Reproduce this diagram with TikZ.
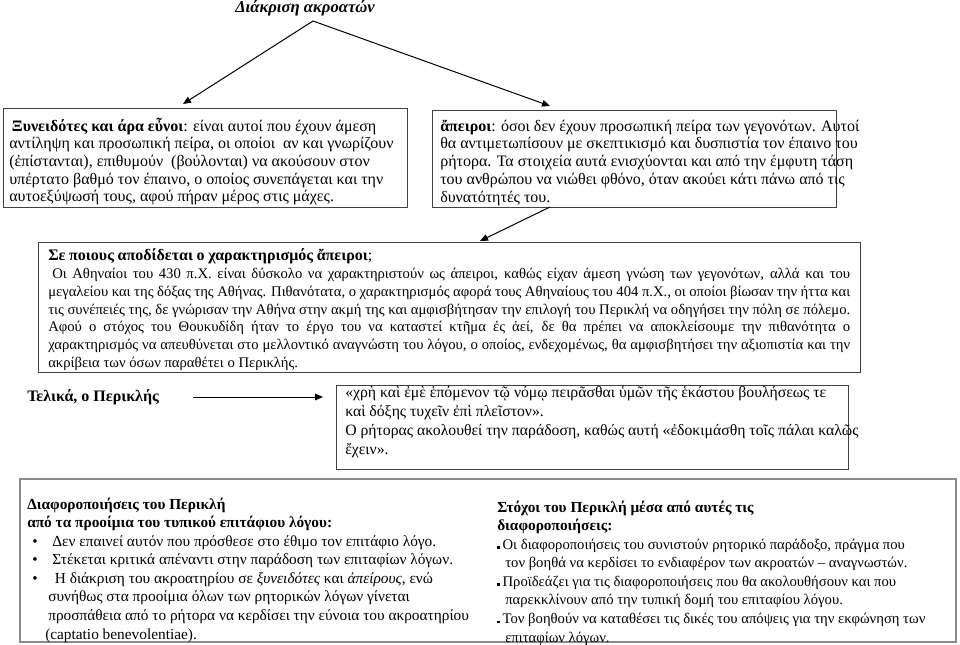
\documentclass[tikz,border=0pt]{standalone}
\usepackage{fontspec}
\setmainfont{Liberation Serif}
\usetikzlibrary{arrows.meta,calc}
\definecolor{boxgray}{HTML}{404040}
\definecolor{biggray}{HTML}{8C8C8C}
\newcommand{\tstr}{\rule{0pt}{11pt}}
\newcommand{\sqb}{\rule{2.2pt}{2.2pt}}
\newcommand{\tightspaces}{\spaceskip=0.25em plus 0.3em minus 0.1em\relax}
\begin{document}
\begin{tikzpicture}[x=0.75pt,y=-0.75pt,
  box/.style={draw=boxgray,line width=0.9pt,inner sep=0pt,anchor=north west},
  bigbox/.style={draw=biggray,line width=1.5pt,inner sep=0pt,anchor=north west},
  txt/.style={inner sep=0pt,anchor=north west,align=left},
  arr/.style={-{Triangle[length=6pt,width=5pt]},line width=0.75pt}]
\useasboundingbox (0,0) rectangle (960,645);
% title
\node[font=\bfseries\itshape\fontsize{12.5}{14}\selectfont,anchor=base,inner sep=0pt] (title) at (305,13) {Διάκριση ακροατών};
\coordinate (apex) at (313,21);
% boxes
\node[box,minimum width=303pt,minimum height=74.25pt] (lbox) at (3,108) {};
\node[box,minimum width=303pt,minimum height=72.75pt] (rbox) at (432,110) {};
\node[box,minimum width=616.5pt,minimum height=97.5pt] (mbox) at (38,242) {};
\node[box,minimum width=384pt,minimum height=63pt] (qbox) at (336,385) {};
\node[bigbox,minimum width=702pt,minimum height=122.25pt] (bbox) at (19,478) {};
% arrows
\coordinate (ltip) at (183,104);
\coordinate (rtip) at (550,106);
\coordinate (rstart) at (550,207);
\coordinate (mtip) at (480,241);
\draw[arr] (apex) -- (ltip);
\draw[arr] (apex) -- (rtip);
\draw[arr] (rstart) -- (mtip);
% left box text
\node[txt,font=\fontsize{12}{13.2}\selectfont] (ltxt) at (9,131-14.67) {\tstr\hspace*{2pt}\textbf{Ξυνειδότες και άρα εὖνοι}: είναι αυτοί που έχουν άμεση\\
αντίληψη και προσωπική πείρα, οι οποίοι \ αν και γνωρίζουν\\
(ἐπίστανται), επιθυμούν \ (βούλονται) να ακούσουν στον\\
υπέρτατο βαθμό τον έπαινο, ο οποίος συνεπάγεται και την\\
αυτοεξύψωσή τους, αφού πήραν μέρος στις μάχες.};
% right box text
\node[txt,font=\fontsize{12}{13.3}\selectfont] (rtxt) at (440,131-14.67) {\tstr\textbf{ἄπειροι}: όσοι δεν έχουν προσωπική πείρα των γεγονότων. Αυτοί\\
θα αντιμετωπίσουν με σκεπτικισμό και δυσπιστία τον έπαινο του\\
ρήτορα. Τα στοιχεία αυτά ενισχύονται και από την έμφυτη τάση\\
του ανθρώπου να νιώθει φθόνο, όταν ακούει κάτι πάνω από τις\\
δυνατότητές του.};
% middle box text
\node[txt,align=justify,text width=601.5pt,font=\fontsize{11}{13.45}\selectfont] (mtxt) at (48,260-14.67) {\tightspaces\tstr{\fontsize{12}{13.45}\selectfont\textbf{Σε ποιους αποδίδεται ο χαρακτηρισμός ἄπειροι};}\\
\hspace*{3pt}Οι Αθηναίοι του 430 π.Χ. είναι δύσκολο να χαρακτηριστούν ως άπειροι, καθώς είχαν άμεση γνώση των γεγονότων, αλλά και του\linebreak
μεγαλείου και της δόξας της Αθήνας. Πιθανότατα, ο χαρακτηρισμός αφορά τους Αθηναίους του 404 π.Χ., οι οποίοι βίωσαν την ήττα και\linebreak
τις συνέπειές της, δε γνώρισαν την Αθήνα στην ακμή της και αμφισβήτησαν την επιλογή του Περικλή να οδηγήσει την πόλη σε πόλεμο.\linebreak
Αφού ο στόχος του Θουκυδίδη ήταν το έργο του να καταστεί κτῆμα ἐς ἀεί, δε θα πρέπει να αποκλείσουμε την πιθανότητα ο\linebreak
χαρακτηρισμός να απευθύνεται στο μελλοντικό αναγνώστη του λόγου, ο οποίος, ενδεχομένως, θα αμφισβητήσει την αξιοπιστία και την\linebreak
ακρίβεια των όσων παραθέτει ο Περικλής.};
% Telika
\node[font=\bfseries\fontsize{12}{14}\selectfont,anchor=base west,inner sep=0pt] (telika) at (27,401) {Τελικά, ο Περικλής};
\coordinate (tstart) at (193,397);
\coordinate (qtip) at (323,397);
\draw[arr] (tstart) -- (qtip);
% quote text
\node[txt,font=\fontsize{11.8}{14.25}\selectfont] (qtxt) at (345,397-14.67) {\tstr«χρὴ καὶ ἐμὲ ἑπόμενον τῷ νόμῳ πειρᾶσθαι ὑμῶν τῆς ἑκάστου βουλήσεως τε\\
καὶ δόξης τυχεῖν ἐπὶ πλεῖστον».\\
Ο ρήτορας ακολουθεί την παράδοση, καθώς αυτή «ἐδοκιμάσθη τοῖς πάλαι καλῶς\\
ἔχειν».};
% bottom left column
\node[txt,font=\fontsize{11.5}{13.9}\selectfont] (bl) at (27,509-14.67) {\tstr\textbf{Διαφοροποιήσεις του Περικλή}\\
\textbf{από τα προοίμια του τυπικού επιτάφιου λόγου:}\\
\hspace*{3.75pt}\makebox[15pt][l]{•}Δεν επαινεί αυτόν που πρόσθεσε στο έθιμο τον επιτάφιο λόγο.\\
\hspace*{3.75pt}\makebox[15pt][l]{•}Στέκεται κριτικά απέναντι στην παράδοση των επιταφίων λόγων.\\
\hspace*{3.75pt}\makebox[15pt][l]{•}\hspace*{2pt}Η διάκριση του ακροατηρίου σε \textit{ξυνειδότες} και \textit{ἀπείρους}, ενώ\\
\hspace*{15.75pt}συνήθως στα προοίμια όλων των ρητορικών λόγων γίνεται\\
\hspace*{15.75pt}προσπάθεια από το ρήτορα να κερδίσει την εύνοια του ακροατηρίου\\
\hspace*{13.5pt}(captatio benevolentiae).};
% bottom right column
\node[txt,font=\fontsize{11}{13.9}\selectfont] (br) at (497,512-14.67) {\tstr{\fontsize{11.5}{13.9}\selectfont\textbf{Στόχοι του Περικλή μέσα από αυτές τις}}\\
{\fontsize{11.5}{13.9}\selectfont\textbf{διαφοροποιήσεις:}}\\
\sqb\,Οι διαφοροποιήσεις του συνιστούν ρητορικό παράδοξο, πράγμα που\\
\hspace*{6pt}τον βοηθά να κερδίσει το ενδιαφέρον των ακροατών – αναγνωστών.\\
\sqb\,Προϊδεάζει για τις διαφοροποιήσεις που θα ακολουθήσουν και που\\
\hspace*{6pt}παρεκκλίνουν από την τυπική δομή του επιταφίου λόγου.\\
\sqb\,Τον βοηθούν να καταθέσει τις δικές του απόψεις για την εκφώνηση των\\
\hspace*{6pt}επιταφίων λόγων.};
\end{tikzpicture}
\end{document}
